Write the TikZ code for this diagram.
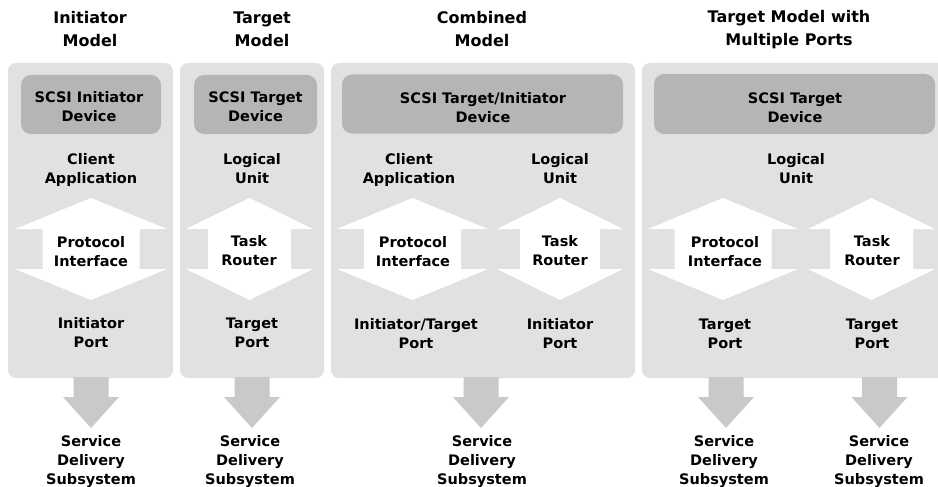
\documentclass[tikz,border=0pt]{standalone}
\usepackage{fontspec}
\setmainfont{DejaVu Sans}
\definecolor{panelgray}{HTML}{E1E1E1}
\definecolor{devgray}{HTML}{B5B5B5}
\definecolor{arrgray}{HTML}{C9C9C9}
\tikzset{
  panelbox/.style={fill=panelgray, rounded corners=8pt, inner sep=0pt},
  devbox/.style={fill=devgray, rounded corners=10pt, inner sep=0pt},
  titletext/.style={font=\fontsize{16}{23}\selectfont\bfseries, align=center, inner sep=0pt},
  lbl/.style={font=\fontsize{14.5}{19}\selectfont\bfseries, align=center, inner sep=0pt},
  pics/downarr/.style={code={
    \fill[arrgray] (-17.5,0) -- (17.5,0) -- (17.5,20) -- (28,20) -- (0,51)
      -- (-28,20) -- (-17.5,20) -- cycle;}},
  pics/dblarr/.style 2 args={code={
    \fill[white] (0,0) -- (#1,31) -- (#2,31) -- (#2,71) -- (#1,71) -- (0,102)
      -- (-#1,71) -- (-#2,71) -- (-#2,31) -- (-#1,31) -- cycle;}}
}
\begin{document}
\begin{tikzpicture}[x=1pt,y=-1pt]
\useasboundingbox[fill=white] (0,0) rectangle (938,487);
\begin{scope}
\clip (0,0) rectangle (938,487);
% panels
\node[panelbox, minimum width=165pt, minimum height=315pt] (pan1) at (90.5,220.5) {};
\node[panelbox, minimum width=144pt, minimum height=315pt] (pan2) at (252,220.5) {};
\node[panelbox, minimum width=304pt, minimum height=315pt] (pan3) at (483,220.5) {};
\node[panelbox, minimum width=305pt, minimum height=315pt] (pan4) at (794.5,220.5) {};
\end{scope}
% device boxes
\node[devbox, minimum width=140pt, minimum height=59pt] (dev1) at (91,104.5) {};
\node[devbox, minimum width=123pt, minimum height=59pt] (dev2) at (255.5,104.5) {};
\node[devbox, minimum width=281pt, minimum height=59pt] (dev3) at (482.5,104) {};
\node[devbox, minimum width=281pt, minimum height=60pt] (dev4) at (794.5,104) {};
% white double arrows
\pic at (91,198) {dblarr={76}{48.5}};
\pic at (249.5,198) {dblarr={63.5}{41.5}};
\pic at (412.5,198) {dblarr={75.5}{48.5}};
\pic at (560,198) {dblarr={63}{40}};
\pic at (723,198) {dblarr={75}{48.5}};
\pic at (871.5,198) {dblarr={63.5}{41.5}};
% down arrows
\pic at (91,377) {downarr};
\pic at (252,377) {downarr};
\pic at (481,377) {downarr};
\pic at (726,377) {downarr};
\pic at (879.5,377) {downarr};
% titles
\node[titletext] (t1) at (90,29.5) {Initiator\\Model};
\node[titletext] (t2) at (262,29.5) {Target\\Model};
\node[titletext] (t3) at (482,29.5) {Combined\\Model};
\node[titletext] (t4) at (789,29.5) {Target Model with\\Multiple Ports};
% device texts
\node[lbl] (d1) at (89,107) {SCSI Initiator\\Device};
\node[lbl] (d2) at (255.5,107) {SCSI Target\\Device};
\node[lbl] (d3) at (483,107.5) {SCSI Target/Initiator\\Device};
\node[lbl] (d4) at (795,107.5) {SCSI Target\\Device};
% upper labels
\node[lbl] (u1) at (91,169.5) {Client\\Application};
\node[lbl] (u2) at (252,169) {Logical\\Unit};
\node[lbl] (u3) at (409,169.5) {Client\\Application};
\node[lbl] (u4) at (560,169) {Logical\\Unit};
\node[lbl] (u5) at (796,169) {Logical\\Unit};
% middle labels
\node[lbl] (m1) at (91,252) {Protocol\\Interface};
\node[lbl] (m2) at (249,250.5) {Task\\Router};
\node[lbl] (m3) at (413,252) {Protocol\\Interface};
\node[lbl] (m4) at (560,250.5) {Task\\Router};
\node[lbl] (m5) at (725,252) {Protocol\\Interface};
\node[lbl] (m6) at (872,250.5) {Task\\Router};
% port labels
\node[lbl] (p1) at (91,332.5) {Initiator\\Port};
\node[lbl] (p2) at (252,332.5) {Target\\Port};
\node[lbl] (p3) at (416,333.5) {Initiator/Target\\Port};
\node[lbl] (p4) at (560,333.5) {Initiator\\Port};
\node[lbl] (p5) at (725,333.5) {Target\\Port};
\node[lbl] (p6) at (872,333.5) {Target\\Port};
% service delivery
\node[lbl] (s1) at (91,461.5) {Service\\Delivery\\Subsystem};
\node[lbl] (s2) at (250,461.5) {Service\\Delivery\\Subsystem};
\node[lbl] (s3) at (482,461.5) {Service\\Delivery\\Subsystem};
\node[lbl] (s4) at (724,461.5) {Service\\Delivery\\Subsystem};
\node[lbl] (s5) at (879,461.5) {Service\\Delivery\\Subsystem};
\end{tikzpicture}
\end{document}
